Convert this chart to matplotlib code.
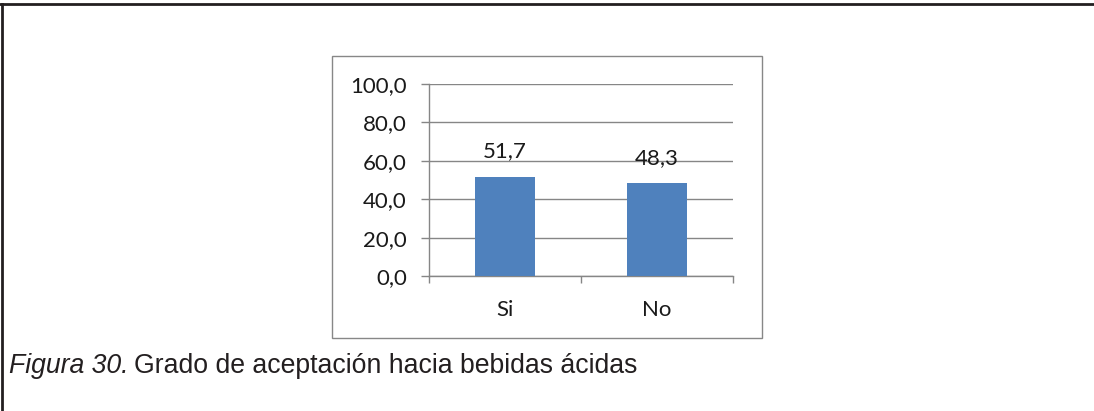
import matplotlib
matplotlib.use("Agg")
import matplotlib.pyplot as plt
from matplotlib.patches import Rectangle
from matplotlib.lines import Line2D

categories = ["Si", "No"]
values = [51.7, 48.3]
value_labels = ["51,7", "48,3"]
y_ticks = [0, 20, 40, 60, 80, 100]
y_tick_labels = ["0,0", "20,0", "40,0", "60,0", "80,0", "100,0"]
caption_italic = "Figura 30."
caption_text = "Grado de aceptación hacia bebidas ácidas"

W, H = 1094, 411
fig = plt.figure(figsize=(W / 100, H / 100), dpi=100)
fig.patch.set_facecolor("white")

def px(x0, y0, x1, y1):
    """Pixel box (top-left origin) -> figure fraction rect."""
    return [x0 / W, 1 - y1 / H, (x1 - x0) / W, (y1 - y0) / H]

# outer frame (top and left edges)
fig.add_artist(Line2D([0, 1], [1 - 4 / H, 1 - 4 / H], color="#231f20", lw=2.0,
                      transform=fig.transFigure))
fig.add_artist(Line2D([1.5 / W, 1.5 / W], [0, 1 - 4 / H], color="#231f20", lw=2.0,
                      transform=fig.transFigure))

# chart area border
r = px(332, 56, 762, 338)
fig.add_artist(Rectangle((r[0], r[1]), r[2], r[3], transform=fig.transFigure,
                         fill=False, edgecolor="#878787", lw=1.0))

grid_c = "#868686"
text_c = "#1a1a1a"
ax = fig.add_axes(px(429, 84, 733, 276))
ax.set_facecolor("none")
x = list(range(len(categories)))
ax.bar(x, values, width=0.4, color="#4f81bd", zorder=3)
ax.set_xlim(-0.5, len(categories) - 0.5)
ax.set_ylim(0, 100)

ax.set_yticks(y_ticks)
ax.set_yticklabels(y_tick_labels)
ax.yaxis.grid(True, color=grid_c, lw=1.0, zorder=0)
ax.set_axisbelow(True)

ax.set_xticks(x)
ax.set_xticklabels(categories)
ax.set_xticks([i - 0.5 for i in range(len(categories) + 1)], minor=True)

for s in ["top", "right"]:
    ax.spines[s].set_visible(False)
for s in ["left", "bottom"]:
    ax.spines[s].set_color(grid_c)
    ax.spines[s].set_linewidth(1.0)

font = "Lato"
fs = 16
ax.tick_params(axis="y", length=6, width=1.0, color=grid_c, pad=10,
               labelsize=fs, labelcolor=text_c)
ax.tick_params(axis="x", which="major", length=0, pad=17,
               labelsize=fs, labelcolor=text_c)
ax.tick_params(axis="x", which="minor", length=5, width=1.0, color=grid_c)
for lab in ax.get_xticklabels() + ax.get_yticklabels():
    lab.set_family(font)

for xi, v, t in zip(x, values, value_labels):
    ax.annotate(t, (xi, v), xytext=(0, 14), textcoords="offset points",
                ha="center", va="baseline", fontsize=fs, family=font,
                color=text_c)

# caption: italic figure number followed by regular text
cap_y = 1 - 373 / H
cap_fs = 19.2
t1 = fig.text(9 / W, cap_y, caption_italic, fontsize=cap_fs, style="italic",
              family="Liberation Sans", va="baseline", color="#231f20")
fig.canvas.draw()
bb = t1.get_window_extent()
fig.text((bb.x1 + 6) / W, cap_y, caption_text, fontsize=cap_fs,
         family="Liberation Sans", va="baseline", color="#231f20")

fig.savefig("out.png", dpi=100)
